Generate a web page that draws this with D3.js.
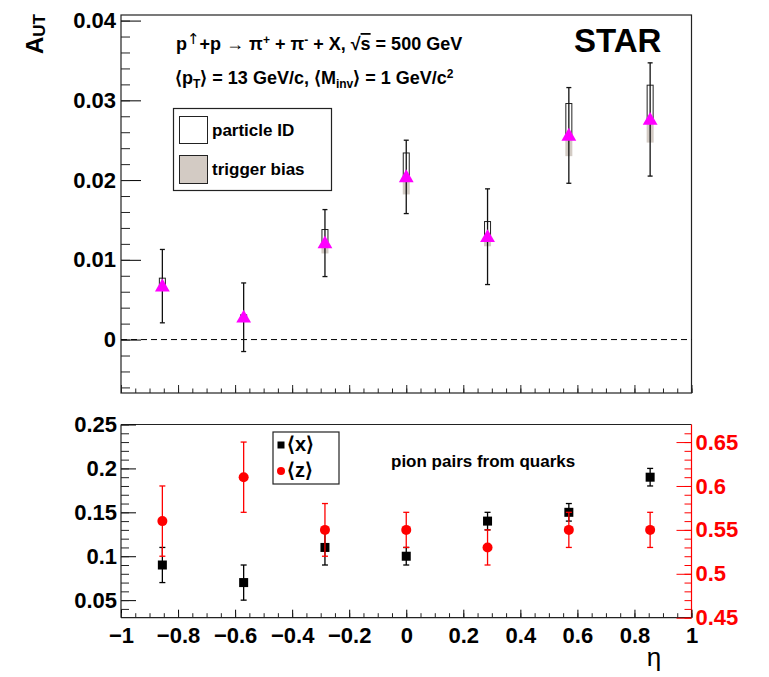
<!DOCTYPE html>
<html>
<head>
<meta charset="utf-8">
<script src="https://cdn.jsdelivr.net/npm/d3@7"></script>
<style>
  html, body { margin: 0; padding: 0; background: #fff; }
  svg { display: block; }
</style>
</head>
<body>
<script>
// eta bins
const eta = [-0.855, -0.57, -0.285, 0, 0.285, 0.57, 0.855];
// A_UT with stat errors and the two systematics
const aut = [0.0067, 0.0028, 0.0121, 0.0204, 0.0129, 0.0256, 0.0276];
const autStat = [0.0046, 0.0043, 0.0042, 0.0046, 0.0060, 0.0060, 0.0071];
const sysPid = [0.0010, 0.0003, 0.0017, 0.0030, 0.0019, 0.0040, 0.0043];
const sysTrig = [0.0005, 0.0003, 0.0013, 0.0022, 0.0012, 0.0026, 0.0029];
// <x> and <z> in the lower panel
const meanX = [0.09, 0.07, 0.11, 0.10, 0.14, 0.15, 0.19];
const meanXErr = [0.02, 0.02, 0.02, 0.01, 0.01, 0.01, 0.01];
const meanZ = [0.56, 0.61, 0.55, 0.55, 0.53, 0.55, 0.55];
const meanZErr = [0.04, 0.04, 0.03, 0.02, 0.02, 0.02, 0.02];

// tick labels
const etaTicks = [-1, -0.8, -0.6, -0.4, -0.2, 0, 0.2, 0.4, 0.6, 0.8, 1];
const autTicks = [0, 0.01, 0.02, 0.03, 0.04];
const xTicks = [0.05, 0.1, 0.15, 0.2, 0.25];
const zTicks = [0.45, 0.5, 0.55, 0.6, 0.65];

const width = 769, height = 677;
const font = "'Liberation Sans', Arial, Helvetica, sans-serif";
const svg = d3.select('body').append('svg')
    .attr('width', width).attr('height', height)
    .attr('viewBox', `0 0 ${width} ${height}`);

const x = d3.scaleLinear().domain([-1, 1]).range([121, 691.5]);
const yTop = d3.scaleLinear().domain([-0.0067, 0.0407]).range([393, 15]);
const yL = d3.scaleLinear().domain([0.03, 0.25]).range([617.7, 424.5]);
const yR = d3.scaleLinear().domain([0.45, 0.67]).range([617.7, 424.5]);

const fmt = d3.format('~g');
const minors = (lo, hi, step) => d3.range(Math.round(lo / step), Math.round(hi / step) + 1).map(i => +(i * step).toFixed(4));

function styleAxis(g, color, size) {
    g.attr('font-family', font).attr('font-size', size).attr('font-weight', 'bold');
    g.selectAll('text').attr('fill', color);
    g.selectAll('line').attr('stroke', color);
    g.select('.domain').remove();
}

// ---------------- top panel ----------------
svg.append('rect')
    .attr('x', x(-1)).attr('y', yTop(0.0407))
    .attr('width', x(1) - x(-1)).attr('height', yTop(-0.0067) - yTop(0.0407))
    .attr('fill', 'none').attr('stroke', '#222').attr('stroke-width', 1.2);

svg.append('g').attr('transform', `translate(${x(-1)},0)`)
    .call(d3.axisLeft(yTop).tickValues(autTicks).tickSizeInner(-20).tickSizeOuter(0).tickPadding(5).tickFormat(fmt))
    .call(g => styleAxis(g, '#000', 22));
svg.append('g').attr('transform', `translate(${x(-1)},0)`)
    .call(d3.axisLeft(yTop).tickValues(minors(-0.006, 0.04, 0.002)).tickSizeInner(-9).tickSizeOuter(0).tickFormat(''))
    .call(g => styleAxis(g, '#222', 10));

svg.append('g').attr('transform', `translate(0,${yTop(-0.0067)})`)
    .call(d3.axisBottom(x).tickValues(etaTicks).tickSizeInner(-8).tickSizeOuter(0).tickFormat(''))
    .call(g => styleAxis(g, '#222', 10));
svg.append('g').attr('transform', `translate(0,${yTop(-0.0067)})`)
    .call(d3.axisBottom(x).tickValues(minors(-1, 1, 0.05)).tickSizeInner(-4.5).tickSizeOuter(0).tickFormat(''))
    .call(g => styleAxis(g, '#222', 10));

// zero line
svg.append('line')
    .attr('x1', x(-1)).attr('x2', x(1)).attr('y1', yTop(0)).attr('y2', yTop(0))
    .attr('stroke', '#000').attr('stroke-dasharray', '6,4');

const pts = eta.map((e, i) => ({e, v: aut[i], s: autStat[i], pid: sysPid[i], trig: sysTrig[i]}));

// trigger bias boxes
svg.append('g').selectAll('rect').data(pts).join('rect')
    .attr('x', d => x(d.e) - 3.5).attr('width', 7)
    .attr('y', d => yTop(d.v)).attr('height', d => yTop(d.v - d.trig) - yTop(d.v))
    .attr('fill', '#d3cbc4');
// particle ID boxes
svg.append('g').selectAll('rect').data(pts).join('rect')
    .attr('x', d => x(d.e) - 3).attr('width', 6)
    .attr('y', d => yTop(d.v + d.pid)).attr('height', d => yTop(d.v) - yTop(d.v + d.pid))
    .attr('fill', 'none').attr('stroke', '#222').attr('stroke-width', 1);

function errorBars(g, data, xf, yf, color, cap) {
    const eb = g.append('g').attr('stroke', color).attr('stroke-width', 1.3);
    eb.selectAll('.v').data(data).join('line')
        .attr('x1', d => xf(d)).attr('x2', d => xf(d))
        .attr('y1', d => yf(d.v - d.s)).attr('y2', d => yf(d.v + d.s));
    eb.selectAll('.t').data(data).join('line')
        .attr('x1', d => xf(d) - cap).attr('x2', d => xf(d) + cap)
        .attr('y1', d => yf(d.v + d.s)).attr('y2', d => yf(d.v + d.s));
    eb.selectAll('.b').data(data).join('line')
        .attr('x1', d => xf(d) - cap).attr('x2', d => xf(d) + cap)
        .attr('y1', d => yf(d.v - d.s)).attr('y2', d => yf(d.v - d.s));
}
errorBars(svg, pts, d => x(d.e), yTop, '#111', 2.5);

// magenta triangles
const tri = d3.symbol().type(d3.symbolTriangle).size(95);
svg.append('g').selectAll('path').data(pts).join('path')
    .attr('d', tri)
    .attr('transform', d => `translate(${x(d.e)},${yTop(d.v) + 1})`)
    .attr('fill', '#ff00ff');

// rich text helper
function rich(sel, parts) {
    let shift = 0;
    parts.forEach(([t, m, fs, fam]) => {
        const target = m === 'sup' ? -6 : m === 'sub' ? 4 : 0;
        const ts = sel.append('tspan').attr('dy', target - shift).text(t);
        if (m && m !== 'over') ts.attr('font-size', fs || 11);
        if (m === 'over') ts.attr('text-decoration', 'overline');
        if (fam) ts.attr('font-family', fam).attr('font-weight', 'normal');
        shift = target;
    });
}

const nb = '\u00a0';
const t1 = svg.append('text').attr('x', 176).attr('y', 50)
    .attr('font-family', font).attr('font-size', 18).attr('font-weight', 'bold');
rich(t1, [['p'], ['\u2191', 'sup', 15, "'DejaVu Sans'"], ['+p' + nb + '\u2192' + nb + '\u03c0'], ['+', 'sup', 12], [' + \u03c0'], ['-', 'sup', 12], [' + X, \u221a'], ['s', 'over'], [' = 500 GeV']]);

const t2 = svg.append('text').attr('x', 175).attr('y', 84)
    .attr('font-family', font).attr('font-size', 18).attr('font-weight', 'bold');
rich(t2, [['\u27e8p'], ['T', 'sub', 12], ['\u27e9 = 13 GeV/c, \u27e8M'], ['inv', 'sub', 12], ['\u27e9 = 1 GeV/c'], ['2', 'sup', 12]]);

svg.append('text').attr('x', 574).attr('y', 52)
    .attr('font-family', font).attr('font-size', 33).attr('font-weight', 'bold').text('STAR');

// legend top
const lg = svg.append('g').attr('font-family', font).attr('font-size', 17).attr('font-weight', 'bold');
lg.append('rect').attr('x', 173.5).attr('y', 108.5).attr('width', 158).attr('height', 82)
    .attr('fill', '#fff').attr('stroke', '#222').attr('stroke-width', 1.2);
lg.append('rect').attr('x', 179.5).attr('y', 116.5).attr('width', 28).attr('height', 27)
    .attr('fill', '#fff').attr('stroke', '#222');
lg.append('rect').attr('x', 179.5).attr('y', 155.5).attr('width', 28).attr('height', 28)
    .attr('fill', '#d3cbc4').attr('stroke', '#222');
lg.append('text').attr('x', 212).attr('y', 136).text('particle ID');
lg.append('text').attr('x', 212).attr('y', 175).text('trigger bias');

// A_UT title
const yt = svg.append('text').attr('transform', 'translate(43,54) rotate(-90)')
    .attr('font-family', font).attr('font-size', 24).attr('font-weight', 'bold');
yt.append('tspan').text('A');
yt.append('tspan').attr('dy', 2).attr('font-size', 17).text('UT');

// ---------------- bottom panel ----------------
svg.append('line').attr('x1', x(-1)).attr('x2', x(1)).attr('y1', yL(0.25)).attr('y2', yL(0.25))
    .attr('stroke', '#222').attr('stroke-width', 1.2);
svg.append('line').attr('x1', x(-1)).attr('x2', x(-1)).attr('y1', yL(0.25)).attr('y2', yL(0.03))
    .attr('stroke', '#222').attr('stroke-width', 1.2);
svg.append('line').attr('x1', x(-1)).attr('x2', x(1)).attr('y1', yL(0.03)).attr('y2', yL(0.03))
    .attr('stroke', '#222').attr('stroke-width', 1.2);
svg.append('line').attr('x1', x(1)).attr('x2', x(1)).attr('y1', yL(0.25)).attr('y2', yL(0.03))
    .attr('stroke', '#ff0000').attr('stroke-width', 1.2);

svg.append('g').attr('transform', `translate(${x(-1)},0)`)
    .call(d3.axisLeft(yL).tickValues(xTicks).tickSizeInner(-15).tickSizeOuter(0).tickPadding(4).tickFormat(fmt))
    .call(g => styleAxis(g, '#000', 22));
svg.append('g').attr('transform', `translate(${x(-1)},0)`)
    .call(d3.axisLeft(yL).tickValues(minors(0.04, 0.25, 0.01)).tickSizeInner(-8).tickSizeOuter(0).tickFormat(''))
    .call(g => styleAxis(g, '#222', 10));

svg.append('g').attr('transform', `translate(${x(1)},0)`)
    .call(d3.axisRight(yR).tickValues(zTicks).tickSizeInner(-15).tickSizeOuter(0).tickPadding(4).tickFormat(fmt))
    .call(g => styleAxis(g, '#ff0000', 22));
svg.append('g').attr('transform', `translate(${x(1)},0)`)
    .call(d3.axisRight(yR).tickValues(minors(0.45, 0.66, 0.01)).tickSizeInner(-7).tickSizeOuter(0).tickFormat(''))
    .call(g => styleAxis(g, '#ff0000', 10));

svg.append('g').attr('transform', `translate(0,${yL(0.03)})`)
    .call(d3.axisBottom(x).tickValues(etaTicks).tickSizeInner(-8).tickSizeOuter(0).tickPadding(9.5).tickFormat(fmt))
    .call(g => styleAxis(g, '#000', 22));
svg.append('g').attr('transform', `translate(0,${yL(0.03)})`)
    .call(d3.axisBottom(x).tickValues(minors(-1, 1, 0.05)).tickSizeInner(-4.5).tickSizeOuter(0).tickFormat(''))
    .call(g => styleAxis(g, '#222', 10));

const xs = eta.map((e, i) => ({e, v: meanX[i], s: meanXErr[i]}));
const zs = eta.map((e, i) => ({e, v: meanZ[i], s: meanZErr[i]}));

errorBars(svg, xs, d => x(d.e), yL, '#000', 3);
svg.append('g').selectAll('rect').data(xs).join('rect')
    .attr('x', d => x(d.e) - 4.5).attr('y', d => yL(d.v) - 4.5)
    .attr('width', 9).attr('height', 9).attr('fill', '#000');

errorBars(svg, zs, d => x(d.e), yR, '#ff0000', 3);
svg.append('g').selectAll('circle').data(zs).join('circle')
    .attr('cx', d => x(d.e)).attr('cy', d => yR(d.v)).attr('r', 5).attr('fill', '#ff0000');

// legend bottom
const lb = svg.append('g').attr('font-family', font).attr('font-size', 20).attr('font-weight', 'bold');
lb.append('rect').attr('x', 273).attr('y', 432).attr('width', 66).attr('height', 52)
    .attr('fill', '#fff').attr('stroke', '#222').attr('stroke-width', 1.2);
lb.append('rect').attr('x', 277.5).attr('y', 441.5).attr('width', 7).attr('height', 7).attr('fill', '#000');
lb.append('circle').attr('cx', 281).attr('cy', 471).attr('r', 4).attr('fill', '#ff0000');
lb.append('text').attr('x', 287).attr('y', 451).text('\u27e8x\u27e9');
lb.append('text').attr('x', 287).attr('y', 477).text('\u27e8z\u27e9');

svg.append('text').attr('x', 391).attr('y', 467)
    .attr('font-family', font).attr('font-size', 17).attr('font-weight', 'bold')
    .text('pion pairs from quarks');

svg.append('text').attr('x', 654).attr('y', 666).attr('text-anchor', 'middle')
    .attr('font-family', font).attr('font-size', 26).text('\u03b7');
</script>
</body>
</html>
